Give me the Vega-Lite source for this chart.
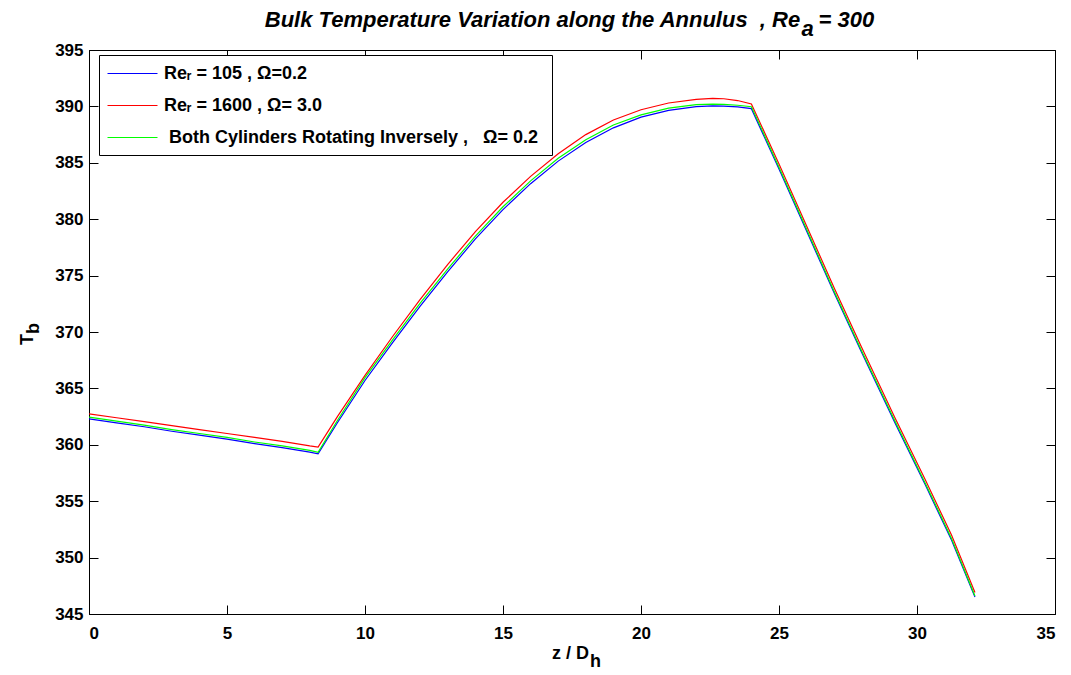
{
  "$schema": "https://vega.github.io/schema/vega-lite/v6.json",
  "width": 966,
  "height": 564,
  "autosize": {"type": "none"},
  "padding": {"left": 89, "top": 50, "right": 16, "bottom": 61},
  "background": "white",
  "config": {
    "view": {"stroke": "black", "strokeWidth": 1},
    "axis": {
      "grid": false,
      "domainColor": "black",
      "tickColor": "black",
      "labelColor": "black",
      "titleColor": "black",
      "labelFont": "Liberation Sans",
      "labelFontSize": 17,
      "labelFontWeight": "bold",
      "titleFont": "Liberation Sans",
      "titleFontSize": 18,
      "titleFontWeight": "bold"
    }
  },
  "data": {
    "values": [
      {"series": "A", "z": 0, "T": 362.3},
      {"series": "A", "z": 1, "T": 361.95},
      {"series": "A", "z": 2, "T": 361.6},
      {"series": "A", "z": 3, "T": 361.2},
      {"series": "A", "z": 4, "T": 360.85},
      {"series": "A", "z": 5, "T": 360.5},
      {"series": "A", "z": 6, "T": 360.1},
      {"series": "A", "z": 7, "T": 359.75},
      {"series": "A", "z": 8, "T": 359.35},
      {"series": "A", "z": 8.3, "T": 359.2},
      {"series": "A", "z": 9, "T": 361.95},
      {"series": "A", "z": 10, "T": 365.7},
      {"series": "A", "z": 11, "T": 369.05},
      {"series": "A", "z": 12, "T": 372.3},
      {"series": "A", "z": 13, "T": 375.35},
      {"series": "A", "z": 14, "T": 378.25},
      {"series": "A", "z": 15, "T": 380.85},
      {"series": "A", "z": 16, "T": 383.15},
      {"series": "A", "z": 17, "T": 385.15},
      {"series": "A", "z": 18, "T": 386.8},
      {"series": "A", "z": 19, "T": 388.1},
      {"series": "A", "z": 20, "T": 389.05},
      {"series": "A", "z": 21, "T": 389.65},
      {"series": "A", "z": 22, "T": 389.98},
      {"series": "A", "z": 22.6, "T": 390.05},
      {"series": "A", "z": 23, "T": 390.03},
      {"series": "A", "z": 23.5, "T": 389.95},
      {"series": "A", "z": 24, "T": 389.8},
      {"series": "A", "z": 25, "T": 384.45},
      {"series": "A", "z": 26, "T": 378.95},
      {"series": "A", "z": 27, "T": 373.45},
      {"series": "A", "z": 28, "T": 368.15},
      {"series": "A", "z": 29.2, "T": 361.95},
      {"series": "A", "z": 30.3, "T": 356.45},
      {"series": "A", "z": 31.25, "T": 351.55},
      {"series": "A", "z": 32.1, "T": 346.5},
      {"series": "B", "z": 0, "T": 362.75},
      {"series": "B", "z": 1, "T": 362.4},
      {"series": "B", "z": 2, "T": 362.05},
      {"series": "B", "z": 3, "T": 361.7},
      {"series": "B", "z": 4, "T": 361.35},
      {"series": "B", "z": 5, "T": 361.0},
      {"series": "B", "z": 6, "T": 360.65},
      {"series": "B", "z": 7, "T": 360.3},
      {"series": "B", "z": 8, "T": 359.9},
      {"series": "B", "z": 8.3, "T": 359.8},
      {"series": "B", "z": 9, "T": 362.5},
      {"series": "B", "z": 10, "T": 366.15},
      {"series": "B", "z": 11, "T": 369.6},
      {"series": "B", "z": 12, "T": 372.9},
      {"series": "B", "z": 13, "T": 376.0},
      {"series": "B", "z": 14, "T": 378.9},
      {"series": "B", "z": 15, "T": 381.5},
      {"series": "B", "z": 16, "T": 383.8},
      {"series": "B", "z": 17, "T": 385.8},
      {"series": "B", "z": 18, "T": 387.5},
      {"series": "B", "z": 19, "T": 388.8},
      {"series": "B", "z": 20, "T": 389.7},
      {"series": "B", "z": 21, "T": 390.3},
      {"series": "B", "z": 22, "T": 390.62},
      {"series": "B", "z": 22.6, "T": 390.72},
      {"series": "B", "z": 23, "T": 390.68},
      {"series": "B", "z": 23.5, "T": 390.52},
      {"series": "B", "z": 24, "T": 390.22},
      {"series": "B", "z": 25, "T": 384.9},
      {"series": "B", "z": 26, "T": 379.4},
      {"series": "B", "z": 27, "T": 373.9},
      {"series": "B", "z": 28, "T": 368.6},
      {"series": "B", "z": 29.2, "T": 362.4},
      {"series": "B", "z": 30.3, "T": 356.9},
      {"series": "B", "z": 31.25, "T": 352.0},
      {"series": "B", "z": 32.1, "T": 346.9},
      {"series": "C", "z": 0, "T": 362.45},
      {"series": "C", "z": 1, "T": 362.1},
      {"series": "C", "z": 2, "T": 361.75},
      {"series": "C", "z": 3, "T": 361.35},
      {"series": "C", "z": 4, "T": 361.0},
      {"series": "C", "z": 5, "T": 360.65},
      {"series": "C", "z": 6, "T": 360.25},
      {"series": "C", "z": 7, "T": 359.9},
      {"series": "C", "z": 8, "T": 359.5},
      {"series": "C", "z": 8.3, "T": 359.33},
      {"series": "C", "z": 9, "T": 362.15},
      {"series": "C", "z": 10, "T": 365.95},
      {"series": "C", "z": 11, "T": 369.3},
      {"series": "C", "z": 12, "T": 372.55},
      {"series": "C", "z": 13, "T": 375.6},
      {"series": "C", "z": 14, "T": 378.5},
      {"series": "C", "z": 15, "T": 381.1},
      {"series": "C", "z": 16, "T": 383.4},
      {"series": "C", "z": 17, "T": 385.4},
      {"series": "C", "z": 18, "T": 387.05},
      {"series": "C", "z": 19, "T": 388.35},
      {"series": "C", "z": 20, "T": 389.25},
      {"series": "C", "z": 21, "T": 389.85},
      {"series": "C", "z": 22, "T": 390.15},
      {"series": "C", "z": 22.6, "T": 390.2},
      {"series": "C", "z": 23, "T": 390.18},
      {"series": "C", "z": 23.5, "T": 390.1},
      {"series": "C", "z": 24, "T": 389.97},
      {"series": "C", "z": 25, "T": 384.6},
      {"series": "C", "z": 26, "T": 379.1},
      {"series": "C", "z": 27, "T": 373.6},
      {"series": "C", "z": 28, "T": 368.3},
      {"series": "C", "z": 29.2, "T": 362.1},
      {"series": "C", "z": 30.3, "T": 356.6},
      {"series": "C", "z": 31.25, "T": 351.7},
      {"series": "C", "z": 32.1, "T": 346.6}
    ]
  },
  "layer": [
    {
      "mark": {"type": "line", "strokeWidth": 1.2, "clip": true},
      "encoding": {
        "x": {
          "field": "z", "type": "quantitative",
          "scale": {"domain": [0, 35], "nice": false, "zero": false},
          "axis": {
            "values": [0, 5, 10, 15, 20, 25, 30, 35],
            "tickSize": -9, "labelPadding": 20,
            "title": "z / D", "titleX": 481, "titleY": 44,
            "titleAlign": "center", "titleBaseline": "alphabetic"
          }
        },
        "y": {
          "field": "T", "type": "quantitative",
          "scale": {"domain": [345, 395], "nice": false, "zero": false},
          "axis": {
            "values": [345, 350, 355, 360, 365, 370, 375, 380, 385, 390, 395],
            "tickSize": -9, "labelPadding": 15,
            "title": "T", "titleX": -57, "titleY": 289,
            "titleAlign": "center", "titleBaseline": "alphabetic", "titleAngle": -90
          }
        },
        "color": {
          "field": "series", "type": "nominal",
          "scale": {
            "domain": ["A", "B", "C"],
            "range": ["#0000ff", "#ff0000", "#00ff00"]
          },
          "legend": {
            "orient": "none", "legendX": 10, "legendY": 5,
            "title": null,
            "labelExpr": "datum.value == 'A' ? 'Reᵣ = 105 , Ω=0.2' : datum.value == 'B' ? 'Reᵣ = 1600 , Ω= 3.0' : '\u200b\u00a0Both Cylinders Rotating Inversely ,\u00a0\u00a0\u00a0Ω= 0.2\u00a0\u200b'",
            "strokeColor": "black", "fillColor": "white", "padding": 8,
            "symbolType": "M-1,0H4", "symbolSize": 400, "symbolStrokeWidth": 1,
            "labelFont": "Liberation Sans", "labelFontWeight": "bold", "labelFontSize": 18,
            "labelColor": "black", "labelOffset": 36, "rowPadding": 12, "labelLimit": 0
          }
        }
      }
    },
    {
      "mark": {"type": "point", "opacity": 0},
      "encoding": {
        "x": {
          "field": "z", "type": "quantitative",
          "axis": {
            "orient": "top", "values": [0, 5, 10, 15, 20, 25, 30, 35],
            "tickSize": -9, "labels": false, "domain": false,
            "title": "Bulk Temperature Variation along the Annulus\u00a0\u00a0, Re\u00a0\u00a0\u00a0= 300",
            "titleFontSize": 22, "titleFontStyle": "italic",
            "titleX": 480, "titleY": -24,
            "titleAlign": "center", "titleBaseline": "alphabetic"
          }
        },
        "y": {
          "field": "T", "type": "quantitative",
          "axis": {
            "orient": "right", "values": [345, 350, 355, 360, 365, 370, 375, 380, 385, 390, 395],
            "tickSize": -9, "labels": false, "domain": false, "title": null
          }
        }
      }
    },
    {
      "mark": {"type": "point", "opacity": 0},
      "encoding": {
        "x": {
          "field": "z", "type": "quantitative",
          "axis": {
            "orient": "bottom", "ticks": false, "labels": false, "domain": false,
            "title": "h", "titleX": 506, "titleY": 52,
            "titleAlign": "center", "titleBaseline": "alphabetic"
          }
        },
        "y": {
          "field": "T", "type": "quantitative",
          "axis": {
            "orient": "left", "ticks": false, "labels": false, "domain": false,
            "title": "b", "titleX": -51, "titleY": 278,
            "titleAlign": "center", "titleBaseline": "alphabetic", "titleAngle": -90
          }
        }
      }
    },
    {
      "mark": {"type": "point", "opacity": 0},
      "encoding": {
        "x": {
          "field": "z", "type": "quantitative",
          "axis": {
            "orient": "top", "ticks": false, "labels": false, "domain": false,
            "title": "a", "titleFontSize": 22, "titleFontStyle": "italic",
            "titleX": 718, "titleY": -15,
            "titleAlign": "center", "titleBaseline": "alphabetic"
          }
        },
        "y": {"field": "T", "type": "quantitative", "axis": null}
      }
    }
  ],
  "resolve": {"axis": {"x": "independent", "y": "independent"}}
}
